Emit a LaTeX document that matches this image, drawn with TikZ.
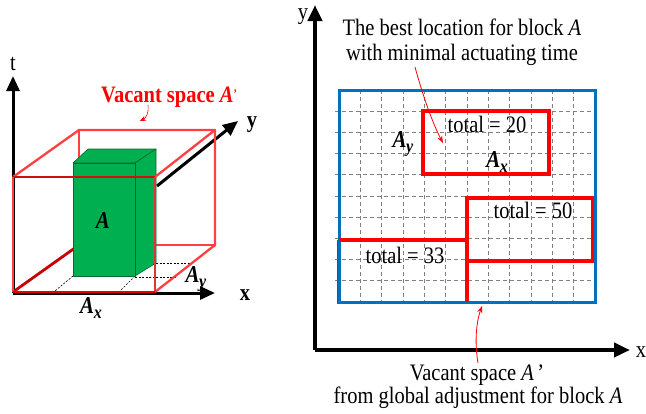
\documentclass[tikz,border=0pt]{standalone}
\usepackage{fontspec}
\setmainfont{Liberation Serif}
\usetikzlibrary{arrows.meta}
\definecolor{boxred}{HTML}{FF4040}
\definecolor{darkred}{HTML}{C80000}
\definecolor{blockgreen}{HTML}{00B050}
\definecolor{blockedge}{HTML}{006B30}
\definecolor{frameblue}{HTML}{0070C0}
\newcommand{\vs}[1]{\scalebox{1}[1.15]{#1}}
\newcommand{\Asub}[1]{{\bfseries\itshape A\kern-0.5pt\raisebox{-5pt}{\fontsize{16}{16}\selectfont #1}}}
\begin{document}
\begin{tikzpicture}[x=1pt,y=-1pt,
  axisarrow/.style={line width=3pt,-{Triangle[length=15pt,width=13pt]}},
  axisarrowb/.style={line width=4pt,-{Triangle[length=16pt,width=14pt]}},
  boxedge/.style={boxred,line width=2.3pt,line join=round},
  floordash/.style={black,dash pattern=on 2pt off 1.5pt,line width=0.6pt},
  blockface/.style={fill=blockgreen,draw=blockedge,line width=0.6pt,line join=round},
  gridline/.style={gray,dash pattern=on 4pt off 3pt,line width=0.7pt},
  redthick/.style={red,line width=4pt},
  lbl/.style={inner sep=0pt,anchor=base,font=\fontsize{20.5}{24}\selectfont},
  redarrow/.style={red,line width=0.8pt,-{Stealth[length=7pt,width=5pt]}},
]
\useasboundingbox (0,0) rectangle (646,413);

% ================= LEFT: 3D view =================
% axes
\coordinate (O) at (13,293);
\coordinate (tTip) at (13,76);
\coordinate (xTip) at (215,293);
\coordinate (yStart) at (157,186);
\coordinate (yTip) at (238,121);
\draw[axisarrow] (O) -- (tTip);
\draw[axisarrow] (O) -- (xTip);
\draw[axisarrow] (yStart) -- (yTip);

% hidden / back edges of vacant box
\draw[boxedge] (79,130) -- (79,160);
\draw[boxedge] (140,245) -- (215,245);
\draw[darkred,line width=2.8pt] (13,292) -- (79,245);

% floor dashed projection lines
\draw[floordash] (73,276) -- (55,291);
\draw[floordash] (135,276) -- (120,291);
\draw[floordash] (135,277) -- (177,277);
\draw[floordash] (156,263) -- (193,263);

% green block
\draw[blockface] (73,163) -- (88,149) -- (156,149) -- (135,163) -- cycle;
\draw[blockface] (135,163) -- (156,149) -- (156,263) -- (135,276) -- cycle;
\draw[blockface] (73,163) rectangle (135,276);

% visible edges of vacant box
\draw[boxedge] (13,177) -- (79,130) -- (215,130) -- (155,177);
\draw[boxedge] (215,130) -- (215,245) -- (155,292);
\draw[boxedge,draw=darkred!80!boxred] (13,177) -- (155,177);
\draw[boxedge] (13,177) -- (13,292);
\draw[boxedge,draw=boxred!85!black] (155,177) -- (155,292);
\draw[red!90!black,line width=2.8pt] (13,292) -- (155,292);

% labels
\node[lbl] (lt) at (13,70) {\vs{t}};
\node[lbl] (lx) at (245,300) {\vs{\bfseries x}};
\node[lbl] (ly) at (252,127) {\vs{\bfseries y}};
\node[lbl,font=\fontsize{21}{24}\selectfont] (lA) at (103,228) {\vs{\bfseries\itshape A}};
\node[lbl,font=\fontsize{21}{24}\selectfont] (lAx) at (91,313) {\vs{\Asub{x}}};
\node[lbl,font=\fontsize{21}{24}\selectfont] (lAy) at (196,282) {\vs{\Asub{y}}};
\node[lbl,font=\fontsize{20.5}{24}\selectfont,text=red] (vac1) at (169,102)
  {\vs{\bfseries Vacant space \textit{A}\raisebox{4pt}{\fontsize{10}{10}\selectfont ’}}};
\coordinate (vac1tip) at (140,121);
\draw[redarrow,line width=0.6pt,-{Stealth[length=6pt,width=5pt]}] ([xshift=-21pt,yshift=-3pt]vac1.base)
  .. controls (149,113) and (146,118) .. (vac1tip);

% ================= RIGHT: grid view =================
% grid
\foreach \i in {1,...,11}
  \draw[gridline] ({339+21.333*\i},90) -- ({339+21.333*\i},302);
\foreach \j in {1,...,9}
  \draw[gridline] (335,{90+21.2*\j}) -- (595,{90+21.2*\j});

% thin red outline of lower-left region
\draw[red,line width=1.5pt] (337.5,240) -- (337.5,303.5) -- (467,303.5);
% blue frame
\draw[frameblue,line width=3pt] (339,90) rectangle (595,302);
% red regions
\draw[redthick] (423,111) rectangle (549,174);
\draw[redthick] (467,198) rectangle (593,261);
\draw[redthick] (339,240) -- (469,240);
\draw[redthick] (467,259) -- (467,302);
\draw[frameblue,line width=3pt] (595,190) -- (595,302);

% axes
\coordinate (O2) at (315,350);
\coordinate (yTip2) at (315,5);
\coordinate (xTip2) at (630,350);
\draw[axisarrowb] (O2) -- (yTip2);
\draw[axisarrowb] (O2) -- (xTip2);
\node[lbl] (ry) at (303,19) {\vs{y}};
\node[lbl] (rx) at (641,357) {\vs{x}};

% texts in grid
\node[lbl] (t20) at (487,132) {\vs{total = 20}};
\node[lbl] (t50) at (533,218) {\vs{total = 50}};
\node[lbl] (t33) at (405,263) {\vs{total = 33}};
\node[lbl,font=\fontsize{21}{24}\selectfont] (rAy) at (403,147) {\vs{\Asub{y}}};
\node[lbl,font=\fontsize{21}{24}\selectfont] (rAx) at (497,167) {\vs{\Asub{x}}};

% top caption
\node[lbl] (cap1) at (462,35) {\vs{The best location for block \textit{A}}};
\node[lbl] (cap2) at (462,60) {\vs{with minimal actuating time}};
\coordinate (bestTip) at (443,143);
\draw[redarrow] ([xshift=-47pt,yshift=-7pt]cap2.base)
  .. controls (423,96) and (432,122) .. (bestTip);

% bottom caption
\node[lbl] (cap3) at (477,380) {\vs{Vacant space \textit{A}\,’}};
\node[lbl] (cap4) at (478,403) {\vs{from global adjustment for block \textit{A}}};
\coordinate (vacTip) at (482,306);
\draw[redarrow] ([xshift=1pt,yshift=17pt]cap3.base)
  .. controls (474,340) and (477,320) .. (vacTip);

\end{tikzpicture}
\end{document}
